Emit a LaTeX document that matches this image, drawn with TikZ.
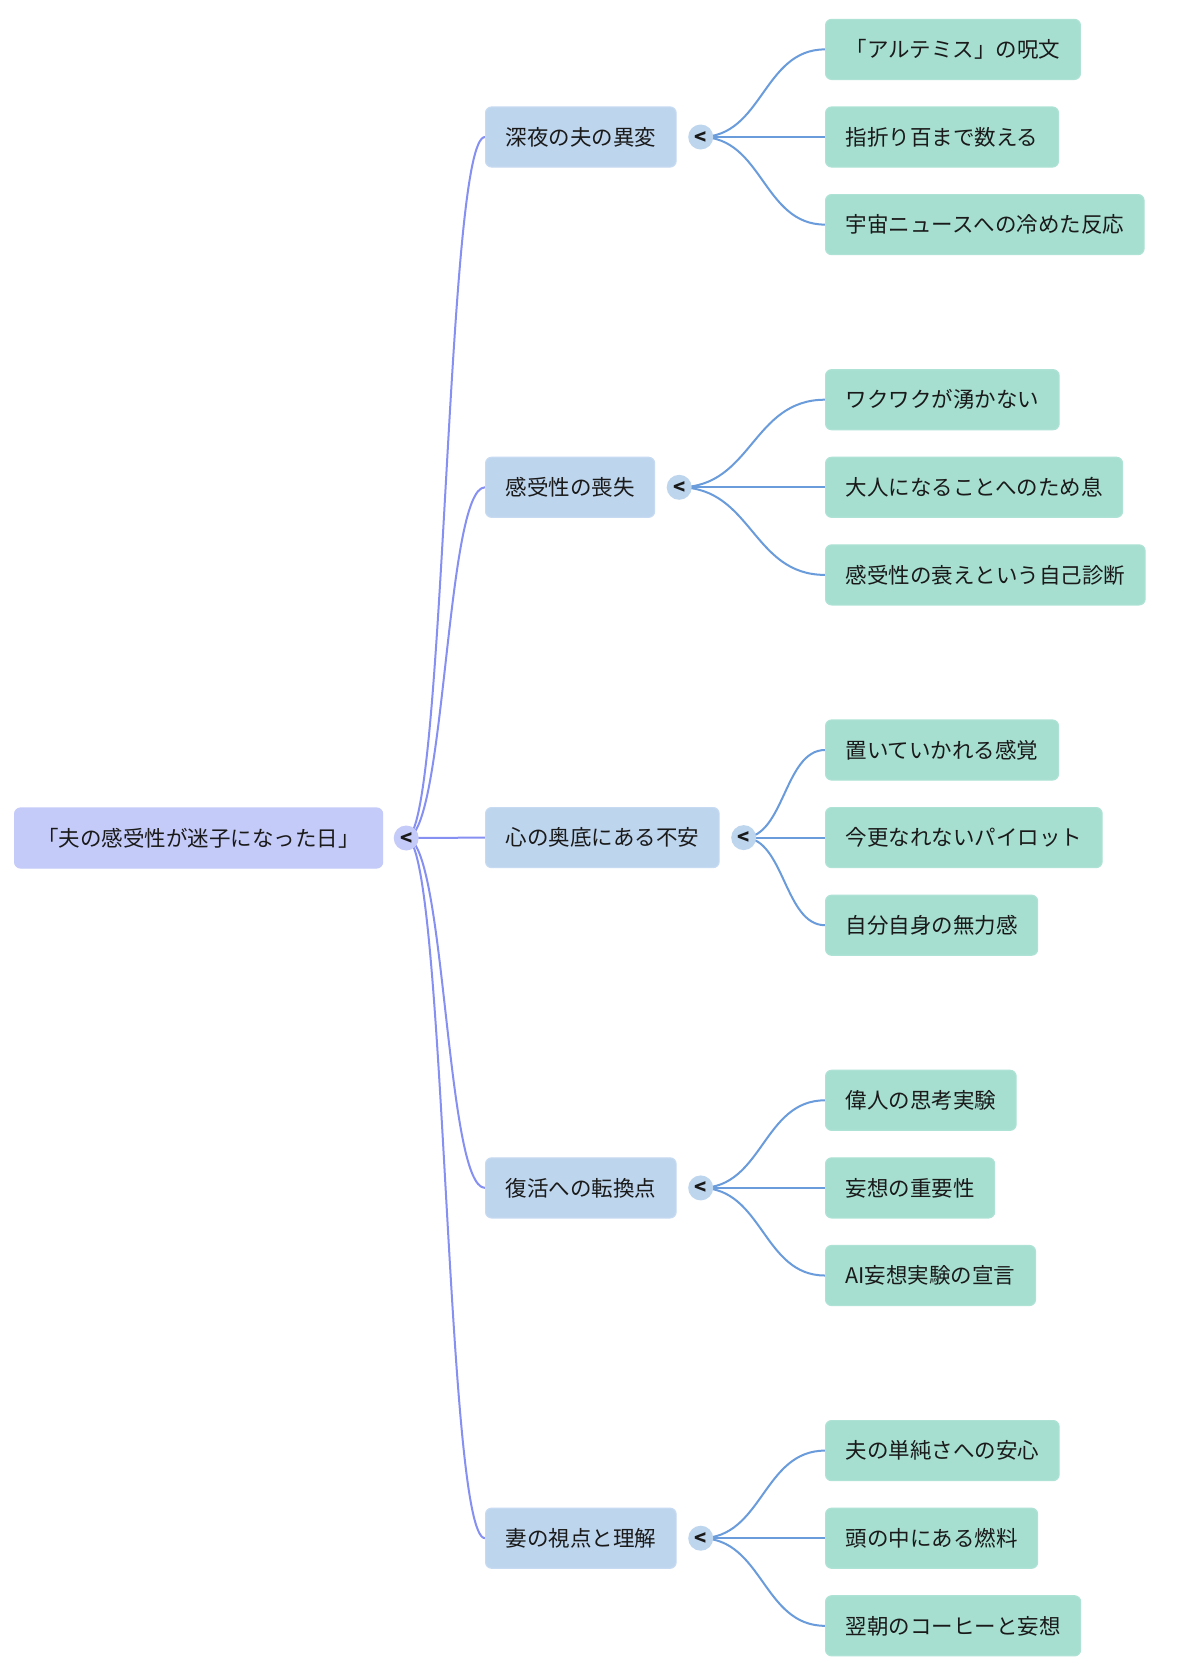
\documentclass[tikz,border=0pt]{standalone}
\usepackage{fontspec}
\setmainfont{Noto Sans CJK JP}
\usetikzlibrary{calc}
\definecolor{rootfill}{HTML}{C5CBF8}
\definecolor{rootline}{HTML}{8690F2}
\definecolor{topicfill}{HTML}{BED5EE}
\definecolor{topicedge}{HTML}{C6DAF1}
\definecolor{topicline}{HTML}{6A9BDB}
\definecolor{leaffill}{HTML}{A6DFD0}
\definecolor{leafedge}{HTML}{ADE2D4}
\definecolor{ink}{HTML}{1A1A1A}
\pgfdeclarelayer{bg}
\pgfsetlayers{bg,main}
\newcommand\mmlink[3]{%
  \path (#2) coordinate (mmA) (#3) coordinate (mmB) ($(mmA)!0.5!(mmB)$) coordinate (mmM);
  \draw[#1] (mmA) .. controls (mmM |- mmA) and (mmM |- mmB) .. (mmB);}
\begin{document}
\begin{tikzpicture}[x=1pt,y=-1pt,
  base/.style={rounded corners=6pt, minimum height=60pt, inner xsep=20pt, inner ysep=0pt,
    text height=21.4pt, text depth=5pt, font=\fontsize{21.5}{26}\selectfont, text=ink,
    line width=1.2pt, anchor=west},
  rootbox/.style={base, fill=rootfill, draw=rootfill, minimum width=368pt},
  topicbox/.style={base, fill=topicfill, draw=topicedge},
  leafbox/.style={base, fill=leaffill, draw=leafedge},
  knob/.style={circle, minimum size=25pt, inner sep=0pt, text=ink,
    font=\fontsize{20}{24}\selectfont\bfseries, text height=14pt, text depth=0pt},
  rootknob/.style={knob, fill=rootfill},
  topicknob/.style={knob, fill=topicfill},
  rootlink/.style={draw=rootline, line width=2pt},
  topiclink/.style={draw=topicline, line width=2pt}]
\useasboundingbox (0,0) rectangle (1200,1676);

% root
\node[rootbox] (root) at (14,838) {「夫の感受性が迷子になった日」};
\node[rootknob] (rk) at ([xshift=23pt]root.east) {<};

% topics
\node[topicbox] (t1) at (485,137) {深夜の夫の異変};
\node[topicbox] (t2) at (485,487.3) {感受性の喪失};
\node[topicbox] (t3) at (485,837.6) {心の奥底にある不安};
\node[topicbox] (t4) at (485,1187.9) {復活への転換点};
\node[topicbox] (t5) at (485,1538.2) {妻の視点と理解};
\foreach \i in {1,...,5} {
  \node[topicknob] (k\i) at ([xshift=24pt]t\i.east) {<};
}

% leaves
\node[leafbox] (l11) at (825,49.4) {「アルテミス」の呪文};
\node[leafbox] (l12) at (825,137) {指折り百まで数える};
\node[leafbox] (l13) at (825,224.6) {宇宙ニュースへの冷めた反応};
\node[leafbox] (l21) at (825,399.7) {ワクワクが湧かない};
\node[leafbox] (l22) at (825,487.3) {大人になることへのため息};
\node[leafbox] (l23) at (825,574.9) {感受性の衰えという自己診断};
\node[leafbox] (l31) at (825,750) {置いていかれる感覚};
\node[leafbox] (l32) at (825,837.6) {今更なれないパイロット};
\node[leafbox] (l33) at (825,925.2) {自分自身の無力感};
\node[leafbox] (l41) at (825,1100.3) {偉人の思考実験};
\node[leafbox] (l42) at (825,1187.9) {妄想の重要性};
\node[leafbox] (l43) at (825,1275.5) {AI妄想実験の宣言};
\node[leafbox] (l51) at (825,1450.6) {夫の単純さへの安心};
\node[leafbox] (l52) at (825,1538.2) {頭の中にある燃料};
\node[leafbox] (l53) at (825,1625.8) {翌朝のコーヒーと妄想};

\begin{pgfonlayer}{bg}
\fill[white] (0,0) rectangle (1200,1676);
\foreach \i in {1,...,5} {
  \mmlink{rootlink}{rk.center}{t\i.west}
  \foreach \j in {1,2,3} {
    \mmlink{topiclink}{k\i.center}{l\i\j.west}
  }
}
\end{pgfonlayer}
\end{tikzpicture}
\end{document}
